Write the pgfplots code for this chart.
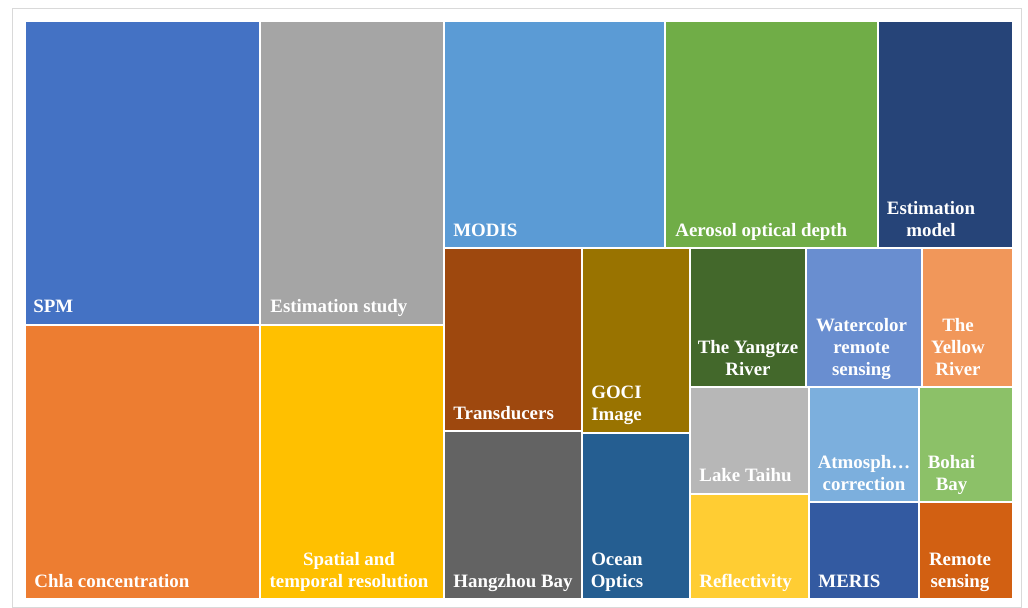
\documentclass[border=0pt]{standalone}
\usepackage{pgfplots}
\pgfplotsset{compat=1.18}
\usepackage{fontspec}
\setmainfont{Liberation Serif}
\definecolor{cSPM}{HTML}{4472C4}
\definecolor{cChla}{HTML}{ED7D31}
\definecolor{cEst}{HTML}{A5A5A5}
\definecolor{cSpat}{HTML}{FFC000}
\definecolor{cMOD}{HTML}{5B9BD5}
\definecolor{cAer}{HTML}{70AD47}
\definecolor{cEM}{HTML}{264478}
\definecolor{cTra}{HTML}{9E480E}
\definecolor{cHan}{HTML}{636363}
\definecolor{cGOC}{HTML}{997300}
\definecolor{cOce}{HTML}{255E91}
\definecolor{cYan}{HTML}{43682B}
\definecolor{cWat}{HTML}{698ED0}
\definecolor{cYel}{HTML}{F1975A}
\definecolor{cTai}{HTML}{B7B7B7}
\definecolor{cRef}{HTML}{FFCD33}
\definecolor{cAtm}{HTML}{7CAFDD}
\definecolor{cBoh}{HTML}{8CC168}
\definecolor{cMER}{HTML}{335AA1}
\definecolor{cRem}{HTML}{D26012}
\definecolor{frame}{HTML}{D9D9D9}
\newcommand{\tile}[5]{\addplot[fill=#5, draw=white, line width=1pt] coordinates {(#1,#2) (#3,#2) (#3,#4) (#1,#4)} -- cycle;}
\newcommand{\lab}[3]{\node[anchor=base west, inner sep=0pt, text=white, font=\bfseries] at (axis cs:#1,#2) {#3};}
\newcommand{\labc}[3]{\node[anchor=base, inner sep=0pt, text=white, font=\bfseries] at (axis cs:#1,#2) {#3};}
\begin{document}
\fontsize{9.45pt}{11pt}\selectfont
\begin{tikzpicture}
\begin{axis}[
  x=0.5pt, y=0.5pt, y dir=reverse,
  xmin=0, xmax=1028, ymin=0, ymax=608,
  hide axis, clip=false, scale only axis,
]
\addplot[fill=white, draw=none] coordinates {(0,0) (1028,0) (1028,608) (0,608)} -- cycle;
\addplot[draw=frame, line width=0.6pt] coordinates {(12.5,8.5) (1021.5,8.5) (1021.5,607.4) (12.5,607.4)} -- cycle;
% tiles: x1 y1 x2 y2
\tile{25}{21}{260}{325}{cSPM}
\tile{25}{325}{260}{599.5}{cChla}
\tile{260}{21}{443.5}{325}{cEst}
\tile{260}{325}{443.5}{599.5}{cSpat}
\tile{443.5}{21}{665}{248.3}{cMOD}
\tile{665}{21}{878}{248.3}{cAer}
\tile{878}{21}{1013}{248.3}{cEM}
\tile{443.5}{248.3}{582.3}{431}{cTra}
\tile{443.5}{431}{582.3}{599.5}{cHan}
\tile{582.3}{248.3}{689.7}{432.7}{cGOC}
\tile{582.3}{432.7}{689.7}{599.5}{cOce}
\tile{689.7}{248.3}{806.3}{386.7}{cYan}
\tile{806.3}{248.3}{922.3}{386.7}{cWat}
\tile{922.3}{248.3}{1013}{386.7}{cYel}
\tile{689.7}{386.7}{809}{494.3}{cTai}
\tile{689.7}{494.3}{809}{599.5}{cRef}
\tile{809}{386.7}{919.3}{502.3}{cAtm}
\tile{809}{502.3}{919.3}{599.5}{cMER}
\tile{919.3}{386.7}{1013}{502.3}{cBoh}
\tile{919.3}{502.3}{1013}{599.5}{cRem}
% labels
\lab{33}{313}{SPM}
\lab{270}{313}{Estimation study}
\lab{34}{588}{Chla concentration}
\labc{349}{566}{Spatial and}
\labc{349}{588}{temporal resolution}
\lab{453}{237}{MODIS}
\lab{675}{237}{Aerosol optical depth}
\labc{931}{215}{Estimation}
\labc{931}{237}{model}
\lab{453}{419.5}{Transducers}
\lab{453}{588}{Hangzhou Bay}
\labc{616.5}{398.5}{GOCI}
\labc{616.5}{420.5}{Image}
\labc{617}{566}{Ocean}
\labc{617}{588}{Optics}
\labc{748}{353.5}{The Yangtze}
\labc{748}{375.5}{River}
\labc{861.5}{331.5}{Watercolor}
\labc{861.5}{353.5}{remote}
\labc{861.5}{375.5}{sensing}
\labc{958}{331.5}{The}
\labc{958}{353.5}{Yellow}
\labc{958}{375.5}{River}
\lab{699}{482}{Lake Taihu}
\lab{699}{588}{Reflectivity}
\labc{864}{468.5}{Atmosph…}
\labc{864}{490.5}{correction}
\labc{951.5}{468.5}{Bohai}
\labc{951.5}{490.5}{Bay}
\lab{818}{588}{MERIS}
\labc{960}{566}{Remote}
\labc{960}{588}{sensing}
\end{axis}
\end{tikzpicture}
\end{document}
